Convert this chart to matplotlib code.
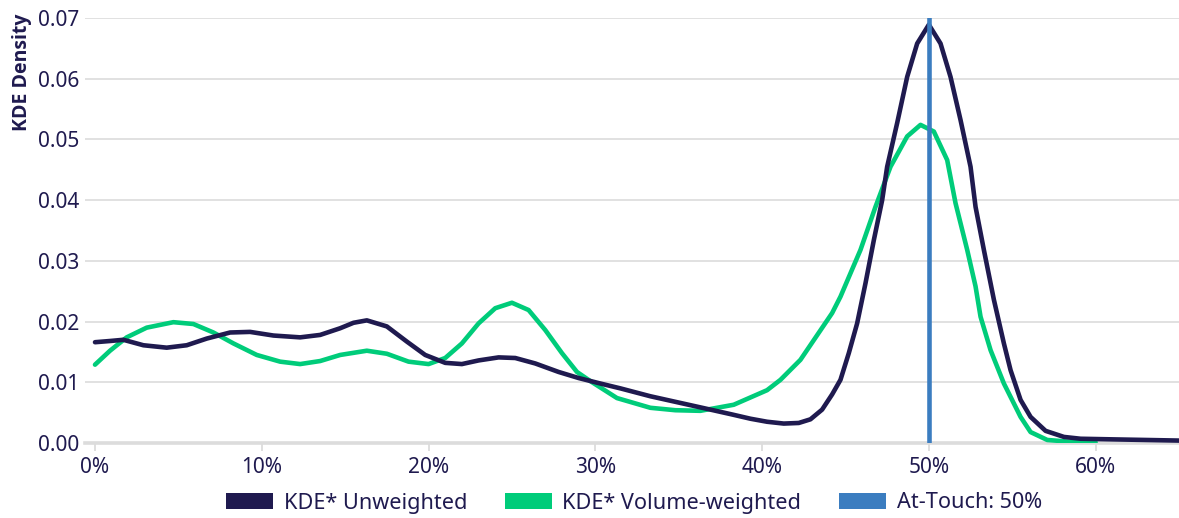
import matplotlib
matplotlib.use("Agg")
import matplotlib.pyplot as plt
from matplotlib.patches import Patch
from matplotlib.ticker import FuncFormatter

plt.rcParams['font.family'] = ['Noto Sans', 'DejaVu Sans']

# Unweighted KDE (x in %, density)
unw_x = [0.0, 0.9, 1.7, 2.9, 4.3, 5.5, 6.7, 8.1, 9.3, 10.7, 12.3, 13.5, 14.7, 15.5,
         16.3, 17.5, 18.7, 19.8, 21.0, 22.0, 23.0, 24.2, 25.2, 26.4, 27.8, 29.0,
         30.3, 31.5, 33.3, 35.1, 36.9, 38.2, 39.3, 40.3, 41.3, 42.2, 42.9, 43.6,
         44.2, 44.7, 45.2, 45.7, 46.2, 46.7, 47.2, 47.5, 48.1, 48.7, 49.3, 50.0,
         50.7, 51.3, 51.9, 52.5, 52.8, 53.3, 53.9, 54.5, 54.9, 55.5, 56.1, 57.0,
         58.1, 59.1, 61.0, 63.0, 65.0]
unw_y = [0.0166, 0.0168, 0.0170, 0.0161, 0.0157, 0.0161, 0.0172, 0.0182, 0.0183,
         0.0177, 0.0174, 0.0178, 0.0189, 0.0198, 0.0202, 0.0192, 0.0167, 0.0145,
         0.0132, 0.0130, 0.0136, 0.0141, 0.0140, 0.0131, 0.0117, 0.0107, 0.0098,
         0.0090, 0.0077, 0.0066, 0.0055, 0.0047, 0.0040, 0.0035, 0.0032, 0.0033,
         0.0039, 0.0055, 0.0080, 0.0104, 0.0148, 0.0197, 0.0263, 0.0334, 0.0400,
         0.0455, 0.0527, 0.0603, 0.0658, 0.0689, 0.0658, 0.0603, 0.0532, 0.0455,
         0.0389, 0.0318, 0.0236, 0.0164, 0.0120, 0.0071, 0.0043, 0.0020, 0.0010,
         0.0007, 0.0006, 0.0005, 0.0004]

# Volume-weighted KDE
vol_x = [0.0, 0.9, 1.9, 3.1, 4.7, 5.9, 7.1, 8.3, 9.7, 11.1, 12.3, 13.5, 14.7, 16.3,
         17.5, 18.8, 20.0, 21.0, 22.0, 23.0, 24.0, 25.0, 26.0, 27.0, 28.0, 28.9,
         29.7, 31.3, 33.3, 34.8, 36.3, 38.3, 40.3, 41.1, 42.3, 44.2, 44.7, 45.9,
         46.8, 47.7, 48.7, 49.5, 50.3, 51.1, 51.6, 52.3, 52.8, 53.1, 53.7, 54.5,
         55.5, 56.1, 57.1, 58.5, 60.0]
vol_y = [0.0129, 0.0152, 0.0174, 0.0190, 0.0199, 0.0196, 0.0182, 0.0164, 0.0145,
         0.0134, 0.0130, 0.0135, 0.0145, 0.0152, 0.0147, 0.0134, 0.0130, 0.0140,
         0.0164, 0.0197, 0.0222, 0.0231, 0.0219, 0.0186, 0.0148, 0.0117, 0.0102,
         0.0074, 0.0058, 0.0054, 0.0053, 0.0063, 0.0087, 0.0104, 0.0137, 0.0214,
         0.0241, 0.0318, 0.0389, 0.0455, 0.0505, 0.0524, 0.0513, 0.0466, 0.0395,
         0.0318, 0.0258, 0.0208, 0.0153, 0.0098, 0.0043, 0.0018, 0.0005, 0.0002,
         0.0001]

at_touch = 50
y_ticks = [0.00, 0.01, 0.02, 0.03, 0.04, 0.05, 0.06, 0.07]
x_ticks = [0, 10, 20, 30, 40, 50, 60]
labels = ["KDE* Unweighted", "KDE* Volume-weighted", "At-Touch: 50%"]

NAVY = "#1f1a4f"
GREEN = "#00cc7a"
BLUE = "#3b7dc0"
GRID = "#dcdcdc"

fig = plt.figure(figsize=(11.79, 5.18), dpi=100)
ax = fig.add_axes([85/1179, 1 - 443/518, 1 - 85/1179, (443 - 18)/518])

ax.plot(unw_x, unw_y, color=NAVY, lw=3.3, solid_capstyle='round', solid_joinstyle='round', zorder=3)
ax.plot(vol_x, vol_y, color=GREEN, lw=3.3, solid_capstyle='round', solid_joinstyle='round', zorder=2)
ax.axvline(at_touch, color=BLUE, lw=3.3, zorder=4)

ax.set_xlim(-0.6, 65.0)
ax.set_ylim(0, 0.07)
ax.set_yticks(y_ticks)
ax.set_xticks(x_ticks)
ax.yaxis.set_major_formatter(FuncFormatter(lambda v, p: f"{v:.2f}"))
ax.xaxis.set_major_formatter(FuncFormatter(lambda v, p: f"{v:.0f}%"))

ax.grid(axis='y', color=GRID, lw=1.2, zorder=0)
ax.set_axisbelow(True)
for s in ['top', 'right', 'left']:
    ax.spines[s].set_visible(False)
ax.spines['bottom'].set_color(GRID)
ax.spines['bottom'].set_linewidth(2.6)
ax.spines['bottom'].set_zorder(1)

ax.tick_params(axis='y', length=0, pad=4, labelsize=15, labelcolor=NAVY)
ax.tick_params(axis='x', length=6, width=1.3, color=GRID, pad=4, labelsize=15, labelcolor=NAVY)

fig.text(22/1179, 1 - 72/518, "KDE Density", rotation=90, ha='center', va='center',
         fontsize=14, fontweight='bold', color=NAVY,
         family=['Open Sans', 'Lato', 'DejaVu Sans'])

handles = [Patch(facecolor=NAVY, edgecolor='none'),
           Patch(facecolor=GREEN, edgecolor='none'),
           Patch(facecolor=BLUE, edgecolor='none')]
fig.legend(handles, labels, loc='center', bbox_to_anchor=(634/1179, 1 - 503/518), ncol=3,
           frameon=False, fontsize=15.6, handlelength=2.15, handleheight=0.72,
           handletextpad=0.5, columnspacing=1.75, labelcolor=NAVY, borderpad=0)

fig.savefig("out.png", dpi=100)
